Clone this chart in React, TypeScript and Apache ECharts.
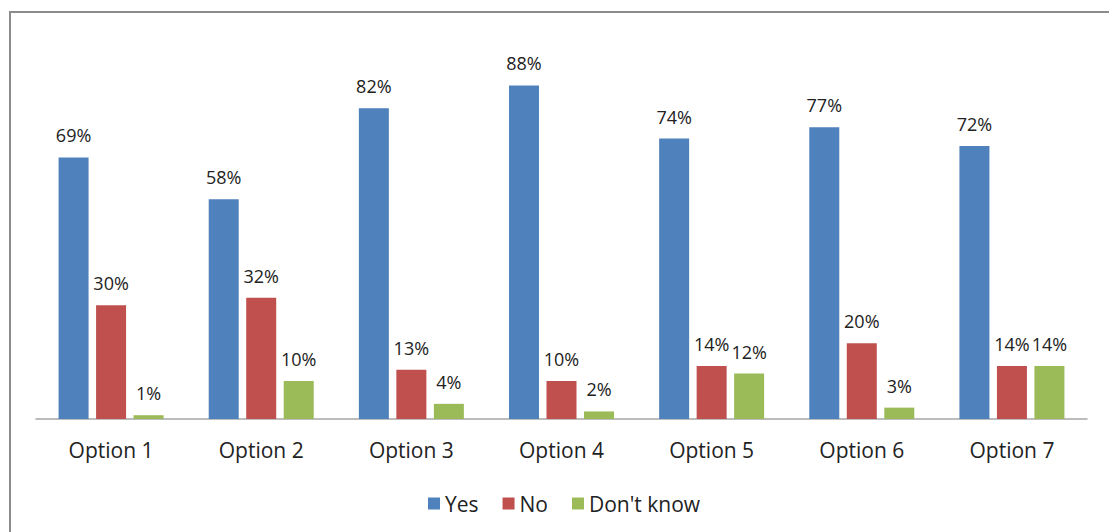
import React, { useEffect, useRef } from "react";
import * as echarts from "echarts";

const categories = ["Option 1", "Option 2", "Option 3", "Option 4", "Option 5", "Option 6", "Option 7"];
const yesValues = [69, 58, 82, 88, 74, 77, 72];
const noValues = [30, 32, 13, 10, 14, 20, 14];
const dontKnowValues = [1, 10, 4, 2, 12, 3, 14];
const seriesNames = ["Yes", "No", "Don't know"];
const colors = ["#4F81BD", "#C0504D", "#9BBB59"];

const FONT = "'Open Sans', sans-serif";

export default function App() {
  const ref = useRef<HTMLDivElement>(null);
  useEffect(() => {
    document.body.style.margin = "0";
    const chart = echarts.init(ref.current!, null, { renderer: "svg" });
    const mk = (name: string, data: number[], color: string) => ({
      name,
      type: "bar",
      data,
      barWidth: 30,
      barGap: "25%",
      itemStyle: { color },
      label: {
        show: true,
        position: "top",
        distance: 13,
        formatter: "{c}%",
        color: "#222",
        fontSize: 18,
        fontFamily: FONT,
      },
    });
    chart.setOption({
      animation: false,
      backgroundColor: "#ffffff",
      graphic: [
        {
          type: "rect",
          shape: { x: 10, y: 12, width: 1120, height: 540 },
          style: { fill: "none", stroke: "#8c8c8c", lineWidth: 2 },
          silent: true,
        },
      ],
      legend: {
        data: seriesNames,
        bottom: 13,
        left: 423,
        icon: "rect",
        itemWidth: 12,
        itemHeight: 12,
        itemGap: 24,
        textStyle: { fontSize: 21, color: "#222", fontFamily: FONT },
      },
      grid: { left: 36, right: 22, top: 40, bottom: 113 },
      xAxis: {
        type: "category",
        data: categories,
        axisLine: { lineStyle: { color: "#a6a6a6", width: 1.5 } },
        axisTick: { show: false },
        axisLabel: { fontSize: 21, color: "#222", fontFamily: FONT, margin: 20 },
      },
      yAxis: {
        type: "value",
        min: 0,
        max: 100,
        show: false,
        splitLine: { show: false },
      },
      series: [
        mk(seriesNames[0], yesValues, colors[0]),
        mk(seriesNames[1], noValues, colors[1]),
        mk(seriesNames[2], dontKnowValues, colors[2]),
      ],
    });
    return () => chart.dispose();
  }, []);
  return <div ref={ref} style={{ position: "absolute", left: 0, top: 0, width: 1109, height: 532 }} />;
}
